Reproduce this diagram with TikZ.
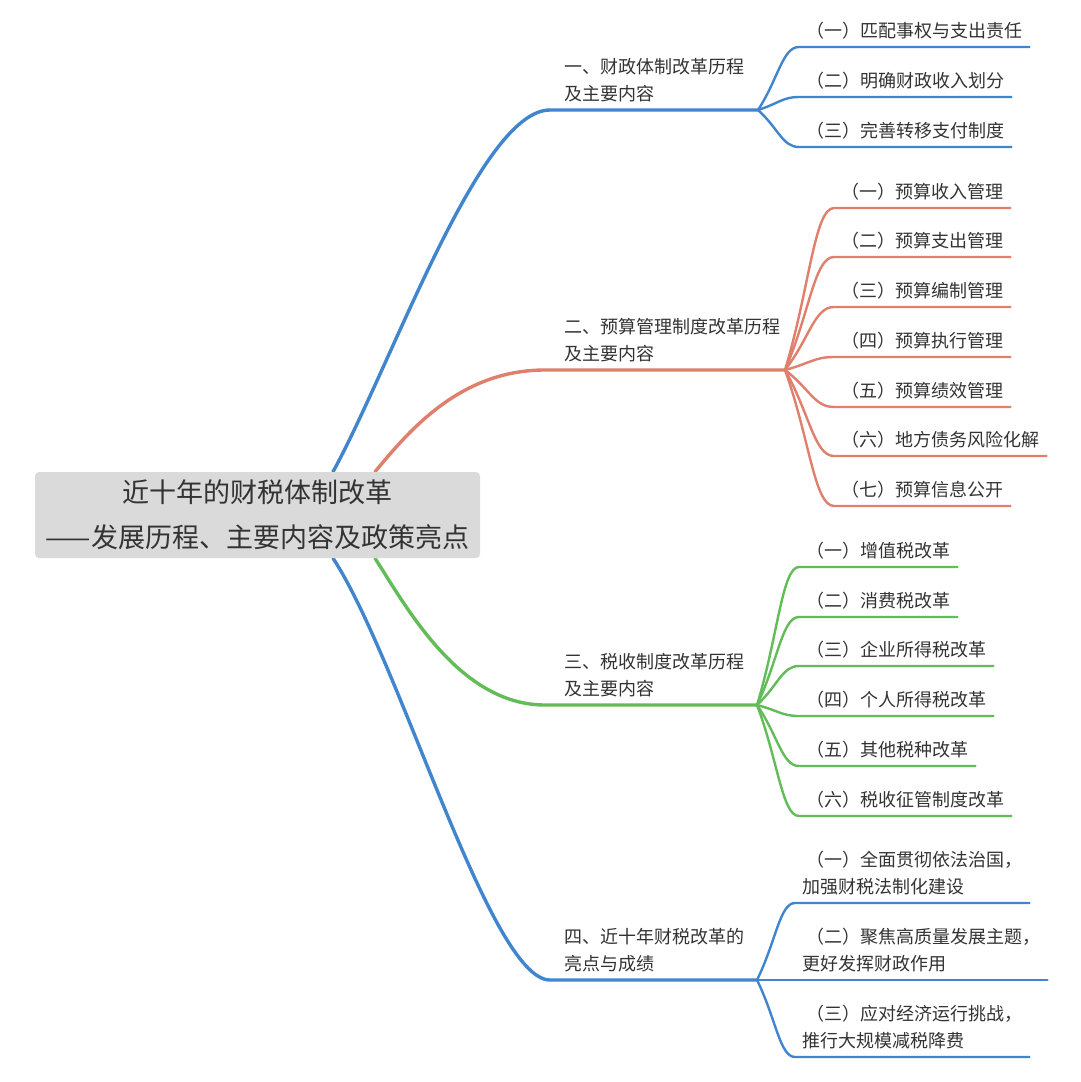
\documentclass[tikz,border=0pt]{standalone}
\usepackage{fontspec}
\setmainfont{Noto Sans CJK SC}
\usetikzlibrary{calc}
\pgfdeclarelayer{bg}
\pgfsetlayers{bg,main}
\definecolor{cblue}{RGB}{64,133,205}
\definecolor{cred}{RGB}{224,127,108}
\definecolor{cgreen}{RGB}{98,188,88}
\definecolor{ctext}{RGB}{51,51,51}
\definecolor{cgray}{RGB}{218,218,218}
\newcommand\kidcurve[3]{\draw[kidline,#1] let \p1=(#2), \p2=(#3.south west) in (#2) .. controls ({\x1+0.5*(\x2-\x1)},{\y1+0.5*(\y2-\y1)}) and ({\x1+0.6*(\x2-\x1)},{\y2}) .. (#3.south west) -- (#3.south east);}
\tikzset{
  txt/.style={text=ctext, font=\fontsize{18pt}{27pt}\selectfont, align=left, inner ysep=0pt, anchor=south west, execute at end node={\rule[-9pt]{0pt}{1pt}}},
  kid/.style={txt, inner xsep=7pt},
  lab/.style={txt, inner xsep=0pt},
  mainline/.style={line width=3.4pt, line cap=round},
  kidline/.style={line width=2.4pt, line cap=round},
  rootbox/.style={fill=cgray, rounded corners=4pt, minimum width=445pt, minimum height=86pt, text=ctext, font=\fontsize{27pt}{45pt}\selectfont, align=center, inner sep=0pt}
}
\begin{document}
\begin{tikzpicture}[x=1pt,y=-1pt]
\useasboundingbox (0,0) rectangle (1080,1082);

% root
\node[rootbox] (root) at (257.5,515) {近十年的财税体制改革\\——发展历程、主要内容及政策亮点};
\coordinate (r1) at ($(root.north)+(75.5,0)$);
\coordinate (r2) at ($(root.north)+(117.5,0)$);
\coordinate (r3) at ($(root.south)+(117.5,0)$);
\coordinate (r4) at ($(root.south)+(75.5,0)$);

% branch points
\coordinate (b1s) at (550,110); \coordinate (b1e) at (758,110);
\coordinate (b2s) at (545,370); \coordinate (b2e) at (785,370);
\coordinate (b3s) at (545,705); \coordinate (b3e) at (757,705);
\coordinate (b4s) at (550,980); \coordinate (b4e) at (757,980);

% branch labels
\node[lab] (l1) at (564,110) {一、财政体制改革历程\\及主要内容};
\node[lab] (l2) at (564,370) {二、预算管理制度改革历程\\及主要内容};
\node[lab] (l3) at (564,705) {三、税收制度改革历程\\及主要内容};
\node[lab] (l4) at (564,980) {四、近十年财税改革的\\亮点与成绩};

% children of branch 1
\node[kid] (k11) at (799,47) {（一）匹配事权与支出责任};
\node[kid] (k12) at (799,97) {（二）明确财政收入划分};
\node[kid] (k13) at (799,147) {（三）完善转移支付制度};

% children of branch 2
\node[kid] (k21) at (834,208) {（一）预算收入管理};
\node[kid] (k22) at (834,257) {（二）预算支出管理};
\node[kid] (k23) at (834,307) {（三）预算编制管理};
\node[kid] (k24) at (834,357) {（四）预算执行管理};
\node[kid] (k25) at (834,407) {（五）预算绩效管理};
\node[kid] (k26) at (834,456) {（六）地方债务风险化解};
\node[kid] (k27) at (834,506) {（七）预算信息公开};

% children of branch 3
\node[kid] (k31) at (799,567) {（一）增值税改革};
\node[kid] (k32) at (799,617) {（二）消费税改革};
\node[kid] (k33) at (799,666) {（三）企业所得税改革};
\node[kid] (k34) at (799,716) {（四）个人所得税改革};
\node[kid] (k35) at (799,766) {（五）其他税种改革};
\node[kid] (k36) at (799,816) {（六）税收征管制度改革};

% children of branch 4
\node[kid] (k41) at (795,903) {\hspace*{4pt}（一）全面贯彻依法治国，\\加强财税法制化建设};
\node[kid] (k42) at (795,980) {\hspace*{4pt}（二）聚焦高质量发展主题，\\更好发挥财政作用};
\node[kid] (k43) at (795,1057) {\hspace*{4pt}（三）应对经济运行挑战，\\推行大规模减税降费};

\begin{pgfonlayer}{bg}
\fill[white] (0,0) rectangle (1080,1082);
\draw[mainline,cblue] (r1) .. controls +(60,-110) and +(-70,0) .. (b1s) -- (b1e);
\draw[mainline,cred] (r2) .. controls +(34,-41) and +(-85,0) .. (b2s) -- (b2e);
\draw[mainline,cgreen] (r3) .. controls +(32,50) and +(-85,0) .. (b3s) -- (b3e);
\draw[mainline,cblue] (r4) .. controls +(67,102) and +(-60,0) .. (b4s) -- (b4e);
\end{pgfonlayer}

\kidcurve{cblue}{b1e}{k11}
\kidcurve{cblue}{b1e}{k12}
\kidcurve{cblue}{b1e}{k13}
\kidcurve{cred}{b2e}{k21}
\kidcurve{cred}{b2e}{k22}
\kidcurve{cred}{b2e}{k23}
\kidcurve{cred}{b2e}{k24}
\kidcurve{cred}{b2e}{k25}
\kidcurve{cred}{b2e}{k26}
\kidcurve{cred}{b2e}{k27}
\kidcurve{cgreen}{b3e}{k31}
\kidcurve{cgreen}{b3e}{k32}
\kidcurve{cgreen}{b3e}{k33}
\kidcurve{cgreen}{b3e}{k34}
\kidcurve{cgreen}{b3e}{k35}
\kidcurve{cgreen}{b3e}{k36}
\kidcurve{cblue}{b4e}{k41}
\kidcurve{cblue}{b4e}{k42}
\kidcurve{cblue}{b4e}{k43}
\end{tikzpicture}
\end{document}
